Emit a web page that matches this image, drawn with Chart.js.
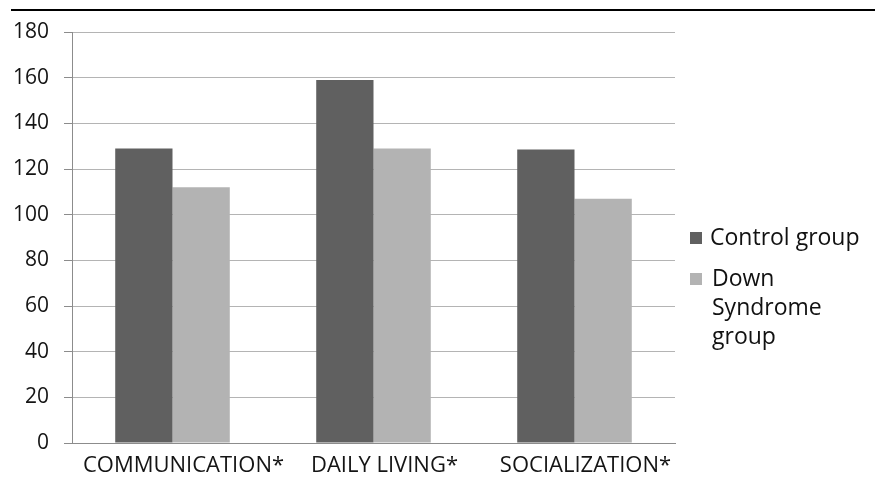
<!DOCTYPE html>
<html>
<head>
<meta charset="utf-8">
<script src="https://cdn.jsdelivr.net/npm/chart.js@4/dist/chart.umd.min.js"></script>
<style>
  body { margin: 0; background: #fff; }
  #wrap { position: relative; width: 875px; height: 481px; }
  #topline { position: absolute; left: 11px; right: 0; top: 9px; height: 0; border-top: 2px solid #000; }
  #legend { position: absolute; left: 690px; top: 222px; font-family: "Open Sans", sans-serif; font-size: 23px; color: #111; line-height: 29px; }
  .item { position: relative; padding-left: 20px; }
  .sw { position: absolute; left: 0; top: 10px; width: 12px; height: 12px; }
  .item + .item { margin-top: 12px; padding-left: 22px; }
</style>
</head>
<body>
<div id="wrap">
  <div id="topline"></div>
  <canvas id="chart" width="875" height="481"></canvas>
  <div id="legend"></div>
</div>
<script>
let categories = ["COMMUNICATION*", "DAILY LIVING*", "SOCIALIZATION*"];
let controlValues = [129, 159, 128.5];
let downValues = [112, 129, 107];
let seriesNames = ["Control group", ["Down", "Syndrome", "group"]];
let yTicks = [0, 20, 40, 60, 80, 100, 120, 140, 160, 180];

let colors = ["#606060", "#b3b3b3"];

const data = {
  labels: categories,
  datasets: [
    { label: "Control group", data: controlValues, backgroundColor: colors[0] },
    { label: "Down Syndrome group", data: downValues, backgroundColor: colors[1] },
  ],
};

const config = {
  type: "bar",
  data,
  options: {
    responsive: false,
    animation: false,
    layout: { padding: { left: 0, right: 200, top: 32, bottom: 0 } },
    plugins: { legend: { display: false }, tooltip: { enabled: false } },
    datasets: { bar: { categoryPercentage: 0.57, barPercentage: 1 } },
    scales: {
      x: {
        grid: { display: false, drawTicks: false },
        border: { display: true, color: "#8c8c8c", width: 1 },
        ticks: {
          color: "#141414", padding: 10, labelOffset: 11,
          maxRotation: 0, minRotation: 0, autoSkip: false,
          font: { family: "Open Sans", size: 22 },
        },
        afterFit: (s) => { s.height = 38; s.paddingLeft = 0; s.paddingRight = 0; },
      },
      y: {
        min: 0,
        max: 180,
        afterBuildTicks: (s) => { s.ticks = yTicks.map((v) => ({ value: v })); },
        grid: { color: "#b4b4b4", tickLength: 8, tickColor: "#8c8c8c" },
        border: { display: true, color: "#8c8c8c", width: 1 },
        ticks: { color: "#141414", padding: 15, font: { family: "Open Sans", size: 21 } },
        afterFit: (s) => { s.width = 72; },
      },
    },
  },
};

new Chart(document.getElementById("chart"), config);

const legend = document.getElementById("legend");
seriesNames.forEach((name, i) => {
  const item = document.createElement("div");
  item.className = "item";
  const sw = document.createElement("span");
  sw.className = "sw";
  sw.style.background = colors[i];
  item.appendChild(sw);
  const lines = Array.isArray(name) ? name : [name];
  lines.forEach((l) => {
    const d = document.createElement("div");
    d.textContent = l;
    item.appendChild(d);
  });
  legend.appendChild(item);
});
</script>
</body>
</html>
